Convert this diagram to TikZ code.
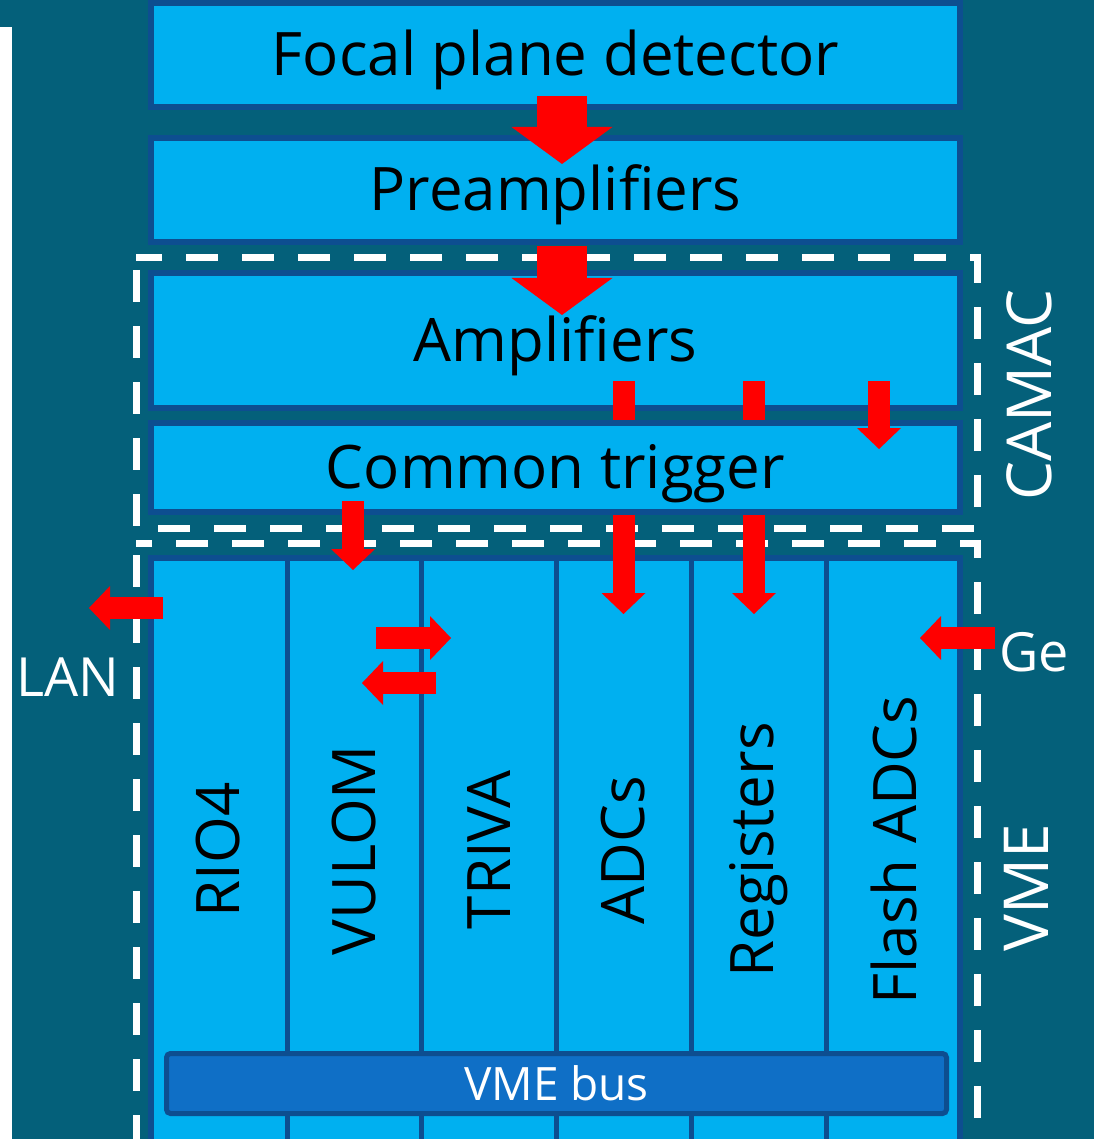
\documentclass[tikz,border=0pt]{standalone}
\usepackage{fontspec}
\setmainfont{Open Sans}
\usepackage{tikz}
\usetikzlibrary{arrows.meta, calc}
\definecolor{bgteal}{HTML}{04607A}
\definecolor{boxblue}{HTML}{00B0F0}
\definecolor{edgeblue}{HTML}{0D4E90}
\definecolor{busblue}{HTML}{0F6FC6}
\definecolor{arrowred}{HTML}{FF0000}

\begin{document}
\begin{tikzpicture}[x=1pt, y=-1pt,
    box/.style={rectangle, draw=edgeblue, fill=boxblue, line width=6pt, inner sep=0pt, minimum width=809pt, minimum height=104pt, text height=48pt, text depth=7pt, font=\fontsize{60}{72}\selectfont},
    collbl/.style={rotate=90, inner sep=0pt, font=\fontsize{60}{72}\selectfont},
    bus/.style={rectangle, draw=edgeblue, fill=busblue, rounded corners=4pt, line width=5pt, inner sep=0pt, minimum width=780pt, minimum height=60pt, text=white, font=\fontsize{46}{55}\selectfont},
    outlbl/.style={text=white, inner sep=0pt, font=\fontsize{54}{64}\selectfont},
    divider/.style={draw=edgeblue, line width=5pt},
    dashframe/.style={draw=white, line width=7pt, dash pattern=on 32pt off 24pt, dash phase=44pt},
    bigarrow/.style={-{Triangle[length=37pt, width=101pt, line width=0pt]}, line width=50pt, draw=arrowred},
    smallarrow/.style={-{Triangle[length=21pt, width=44pt, line width=0pt]}, line width=22pt, draw=arrowred}
]
    \clip (0,0) rectangle (1094,1139);
    \fill[bgteal] (0,0) rectangle (1094,1139);
    \fill[white] (0,27) rectangle (12,1139);

    % --- Detector chain ---
    \node[box] (focal) at (555.5, 55) {Focal plane detector};
    \node[box] (preamp) at (555.5, 190) {Preamplifiers};
    \node[box, minimum height=135pt] (amp) at (555.5, 340.5) {Amplifiers};

    % --- VME crate ---
    \node[box, minimum height=602pt] (vme) at (555.5, 859) {};
    \draw[divider] (287, 558) -- (287, 1160);
    \draw[divider] (421, 558) -- (421, 1160);
    \draw[divider] (556, 558) -- (556, 1160);
    \draw[divider] (691, 558) -- (691, 1160);
    \draw[divider] (826, 558) -- (826, 1160);
    \node[bus] (vmebus) at (556.5, 1083.5) {VME bus};

    \node[collbl] (rio) at (218.5, 850) {RIO4};
    \node[collbl] (vulom) at (354, 850) {VULOM};
    \node[collbl] (triva) at (488.5, 850) {TRIVA};
    \node[collbl] (adcs) at (623.5, 850) {ADCs};
    \node[collbl] (regs) at (758.5, 850) {Registers};
    \node[collbl] (flash) at (893.5, 850) {Flash ADCs};

    % Crate boundaries
    \draw[dashframe] (136, 258) rectangle (977, 528);
    \draw[dashframe] (136, 543) rectangle (977, 1200);
    \node[outlbl, rotate=90, font=\fontsize{62}{74}\selectfont] (camac) at (1029, 395) {CAMAC};
    \node[outlbl, rotate=90, font=\fontsize{62}{74}\selectfont] (vmelbl) at (1026, 888) {VME};
    \node[outlbl] (lan) at (68, 677) {LAN};
    \node[outlbl] (ge) at (1034, 652) {Ge};

    % Connections through the chain
    \draw[bigarrow] ($(focal.south)+(6.5,-14)$) -- ($(preamp.north)+(6.5,29)$);
    \draw[bigarrow] ($(preamp.south)+(6.5,1)$) -- ($(amp.north)+(6.5,45)$);
    \draw[smallarrow] ($(amp.south -| adcs)+(0,-30)$) -- ($(vme.north -| adcs)+(0,59)$);
    \draw[smallarrow] ($(amp.south -| regs)+(-4.5,-30)$) -- ($(vme.north -| regs)+(-4.5,59)$);

    \node[box, minimum height=89pt] (trig) at (555.5, 467.5) {Common trigger};

    % Trigger and readout links
    \draw[smallarrow] ($(amp.south)+(323.5,-30)$) -- ($(trig.north)+(323.5,29)$);
    \draw[smallarrow] ($(trig.south -| vulom)+(-1,-14)$) -- ($(vme.north -| vulom)+(-1,15)$);
    \draw[smallarrow] ($(vme.north west)+(15,53)$) -- ($(vme.north west)+(-59,53)$);
    \draw[smallarrow] ($(vme.north -| vulom)+(22,83)$) -- ($(vme.north -| triva)+(-37.5,83)$);
    \draw[smallarrow] ($(vme.north -| triva)+(-52.5,128)$) -- ($(vme.north -| vulom)+(8,128)$);
    \draw[smallarrow] ($(vme.north east)+(32,83)$) -- ($(vme.north east)+(-43,83)$);
\end{tikzpicture}
\end{document}
